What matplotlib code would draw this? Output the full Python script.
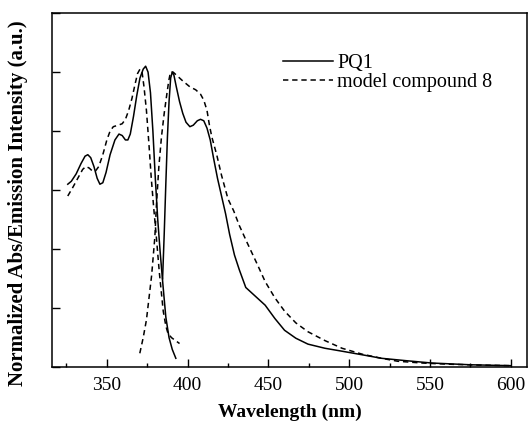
import matplotlib.pyplot as plt
from matplotlib.ticker import MultipleLocator

plt.rcParams['font.family'] = ['Liberation Serif', 'DejaVu Serif']

# PQ1 absorption (solid)
pq1_abs_x = [325.8, 328, 331, 334, 336.5, 338.2, 340, 342, 344, 345.7, 347.5, 349.5, 352, 355,
             357.5, 359.5, 361.5, 363, 364.5, 366.5, 368.5, 370.5, 372.5, 374, 375.5, 377, 378.5,
             380, 381.5, 383, 384.7, 386.5, 388.5, 390.5, 392.7]
pq1_abs_y = [0.62, 0.63, 0.655, 0.69, 0.715, 0.72, 0.71, 0.68, 0.64, 0.62, 0.625, 0.66, 0.72, 0.77,
             0.79, 0.785, 0.77, 0.77, 0.79, 0.85, 0.92, 0.98, 1.01, 1.02, 1.0, 0.93, 0.80,
             0.64, 0.50, 0.39, 0.28, 0.17, 0.10, 0.06, 0.03]

# PQ1 emission (solid)
pq1_em_x = [384.5, 385.5, 386.5, 387.5, 388.5, 389.5, 390.5, 391.5, 393, 395, 397, 399, 401.4,
            403.5, 406, 408, 410, 412, 414, 416, 418.5, 421, 423.5, 426, 429, 432, 436, 441, 448,
            454, 460, 467, 474.5, 485, 495.6, 510, 520, 535, 551, 575, 600]
pq1_em_y = [0.30, 0.45, 0.62, 0.78, 0.90, 0.98, 1.0, 0.99, 0.95, 0.90, 0.86, 0.83, 0.815,
            0.82, 0.835, 0.84, 0.835, 0.81, 0.77, 0.71, 0.64, 0.58, 0.52, 0.45, 0.38, 0.33, 0.27, 0.245, 0.21,
            0.165, 0.125, 0.098, 0.078, 0.064, 0.054, 0.04, 0.03, 0.022, 0.014, 0.008, 0.005]

# model compound 8 absorption (dashed)
m8_abs_x = [325.8, 329, 332, 335, 337, 339, 341, 343, 345, 347.5, 350, 352, 354, 357, 359.5,
            361.5, 363.5, 365.5, 367.5, 369, 370.5, 371.8, 373, 374.5, 376, 377.5, 379, 380.5,
            382.5, 384.9, 386.5, 387.8, 390, 392.5, 395]
m8_abs_y = [0.58, 0.61, 0.64, 0.67, 0.68, 0.675, 0.665, 0.665, 0.68, 0.72, 0.77, 0.80, 0.815, 0.82, 0.825,
            0.84, 0.87, 0.91, 0.96, 0.995, 1.01, 1.0, 0.95, 0.87, 0.76, 0.64, 0.54, 0.45,
            0.32, 0.19, 0.14, 0.115, 0.10, 0.09, 0.08]

# model compound 8 emission (dashed)
m8_em_x = [370.4, 372.5, 374.5, 376, 377.7, 379.7, 380.7, 382.2, 383.8, 385.5, 387, 388.3, 389.4,
           391, 393, 397, 401.4, 405, 408, 410, 412, 413.5, 415, 418, 421, 425, 428.5, 432, 437,
           443, 448, 454, 460, 467, 474.5, 485, 495.6, 508, 520, 530, 545, 561, 580, 600]
m8_em_y = [0.047, 0.10, 0.16, 0.23, 0.31, 0.44, 0.55, 0.68, 0.78, 0.86, 0.92, 0.97, 1.0,
           1.0, 0.99, 0.97, 0.95, 0.94, 0.925, 0.905, 0.87, 0.82, 0.78, 0.72, 0.65, 0.57, 0.53, 0.48, 0.42,
           0.35, 0.29, 0.235, 0.19, 0.15, 0.12, 0.09, 0.064, 0.044, 0.03, 0.02, 0.014, 0.01, 0.007, 0.005]

fig = plt.figure(figsize=(5.3, 4.22), dpi=100)
ax = fig.add_axes([0.098, 0.130, 0.896, 0.839])

dash = (0, (3.5, 2.5))
ax.plot(pq1_abs_x, pq1_abs_y, color='black', lw=1.1, label='PQ1')
ax.plot(pq1_em_x, pq1_em_y, color='black', lw=1.1)
ax.plot(m8_abs_x, m8_abs_y, color='black', lw=1.1, linestyle=dash, label='model compound 8')
ax.plot(m8_em_x, m8_em_y, color='black', lw=1.1, linestyle=dash)

ax.set_xlim(316, 610)
ax.set_ylim(0, 1.2)
ax.xaxis.set_major_locator(MultipleLocator(50))
ax.xaxis.set_minor_locator(MultipleLocator(25))
ax.yaxis.set_major_locator(MultipleLocator(0.2))
ax.set_yticklabels([])
ax.tick_params(axis='both', which='major', direction='in', length=6, width=1, labelsize=14)
ax.tick_params(axis='x', which='minor', direction='in', length=3, width=1)
ax.tick_params(axis='x', pad=7)

ax.set_xlabel('Wavelength (nm)', fontsize=14, fontweight='bold', labelpad=7)
ax.set_ylabel('Normalized Abs/Emission Intensity (a.u.)', fontsize=15, fontweight='bold')
ax.yaxis.set_label_coords(-0.05, 0.463)

ax.legend(loc='upper left', bbox_to_anchor=(0.486, 0.885), frameon=False, fontsize=14.5,
          handlelength=2.5, handletextpad=0.2, labelspacing=0.0, borderpad=0, borderaxespad=0)

for s in ax.spines.values():
    s.set_linewidth(1.1)

fig.savefig('out.png', dpi=100)
